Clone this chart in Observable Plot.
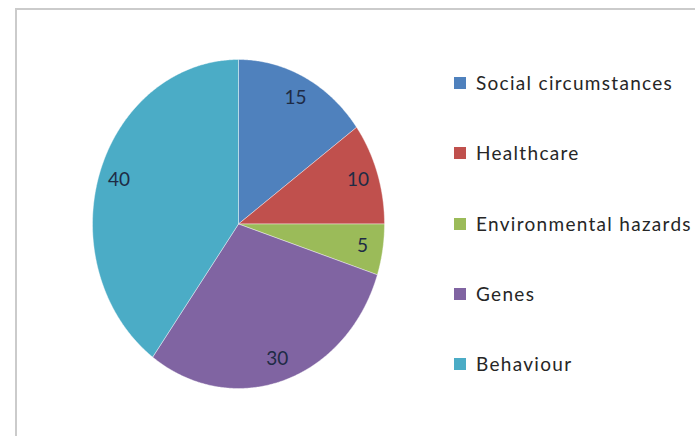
<!DOCTYPE html>
<html><head><meta charset="utf-8">
<script src="https://cdn.jsdelivr.net/npm/d3@7"></script>
<script src="https://cdn.jsdelivr.net/npm/@observablehq/plot@0.6"></script>
<style>
body{margin:0;background:#fff;font-family:Lato,sans-serif;}
#wrap{position:relative;width:695px;height:436px;overflow:hidden;background:#fff;}
#frame{position:absolute;left:15px;top:8px;width:800px;height:600px;border:2px solid #cbcbcb;box-sizing:border-box;}
#chart{position:absolute;left:0;top:0;}
#legend{position:absolute;left:454px;top:0;}
.item{position:absolute;left:0;white-space:nowrap;font-size:19px;line-height:20px;letter-spacing:1.3px;color:#262626;display:flex;align-items:center;transform:translateY(-50%);}
.sw{width:12px;height:12px;margin-right:10px;flex:none;}
</style></head>
<body>
<div id="wrap"><div id="frame"></div><div id="chart"></div><div id="legend"></div></div>
<script>
const categories = ["Social circumstances","Healthcare","Environmental hazards","Genes","Behaviour"];
const values = [15,10,5,30,40];
const colors = ["#4F81BD","#C0504D","#9BBB59","#8064A2","#4BACC6"];

const data = categories.map((name,i)=>({name, value: values[i]}));
const arcs = d3.pie().sort(null).value(d=>d.value)(data);

const step = Math.PI/360;
const points = [];
for (const a of arcs) {
  points.push({name:a.data.name, x:0, y:0});
  const n = Math.max(2, Math.ceil((a.endAngle-a.startAngle)/step));
  for (let k=0;k<=n;k++){
    const t = a.startAngle + (a.endAngle-a.startAngle)*k/n;
    points.push({name:a.data.name, x:Math.sin(t), y:Math.cos(t)});
  }
  points.push({name:a.data.name, x:0, y:0});
}
const f = 0.86;
const labels = arcs.map(a=>{const m=(a.startAngle+a.endAngle)/2; return {text:String(a.data.value), x:f*Math.sin(m), y:f*Math.cos(m)};});

const chart = Plot.plot({
  width:695, height:436, margin:0,
  style:{background:"transparent", fontFamily:"Lato, sans-serif"},
  x:{domain:[-1,1], range:[92,384], axis:null},
  y:{domain:[-1,1], range:[388,59], axis:null},
  color:{domain:categories, range:colors},
  marks:[
    Plot.line(points,{x:"x",y:"y",z:"name",fill:"name",stroke:"#ffffff",strokeWidth:0.8,strokeOpacity:0.5,curve:"linear"}),
    Plot.text(labels,{x:"x",y:"y",text:"text",fontSize:19,fill:"#1e2b45"})
  ]
});
document.getElementById("chart").appendChild(chart);

const legend = document.getElementById("legend");
categories.forEach((c,i)=>{
  const it = document.createElement("div");
  it.className="item";
  it.style.top = (83 + i*70.3)+"px";
  it.innerHTML = `<span class="sw" style="background:${colors[i]}"></span><span>${c}</span>`;
  legend.appendChild(it);
});
</script>
</body></html>
